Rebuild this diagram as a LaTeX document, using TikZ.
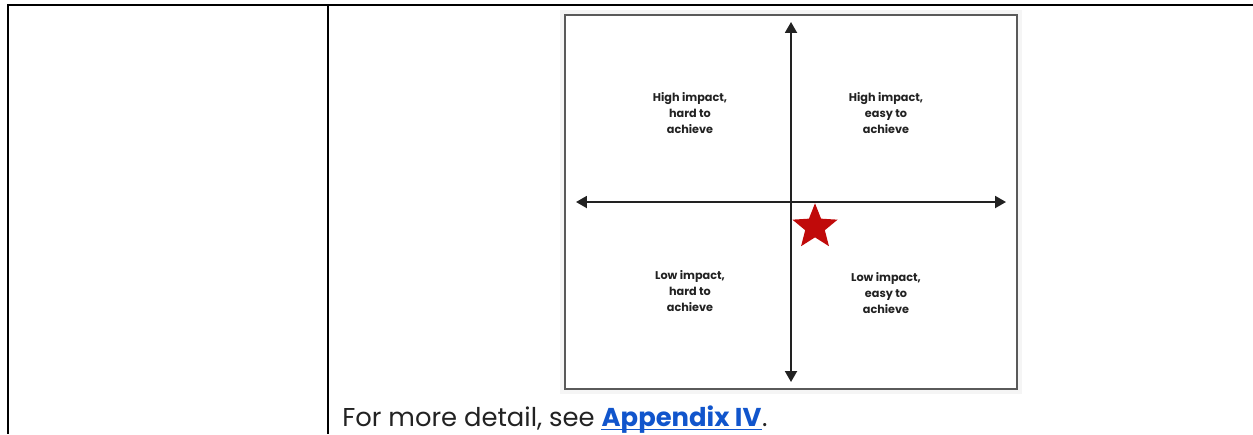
\documentclass[tikz,border=0pt]{standalone}
\usepackage{fontspec}
\setmainfont{Poppins}
\usetikzlibrary{arrows.meta,shapes.geometric,positioning}
\definecolor{axisgray}{HTML}{222222}
\definecolor{framegray}{HTML}{5A5A5A}
\definecolor{starred}{HTML}{C00A0A}
\definecolor{linkblue}{HTML}{1155CC}

\begin{document}
\begin{tikzpicture}[x=0.02cm,y=-0.02cm,
  quad/.style={font=\fontsize{6.4}{9.1}\selectfont\bfseries, align=center, inner sep=0pt, text=axisgray},
  axis/.style={draw=axisgray, line width=1.1pt, {Triangle[length=6.2pt,width=6.8pt]}-{Triangle[length=6.2pt,width=6.8pt]}},
  body/.style={inner sep=0pt, font=\fontsize{14.7}{18}\selectfont}]
\useasboundingbox (0,0) rectangle (1253,434);
% table rules
\draw [black, line width=1.2pt] (7,5) -- (1253,5);
\draw [black, line width=1.2pt] (8,5) -- (8,434);
\draw [black, line width=1.1pt] (328,5) -- (328,434);
% chart frame
\draw [black!4, line width=3pt] (563,13) rectangle (1019,391);
\draw [framegray, line width=0.8pt] (565,15) rectangle (1017,389);
% axes
\coordinate (top) at (791,22);
\coordinate (bot) at (791,382);
\coordinate (left) at (576,202);
\coordinate (right) at (1006,202);
\draw [axis] (top) -- (bot);
\draw [axis] (left) -- (right);
% quadrants
\node [quad] (hardhigh) at (690,113) {High impact,\\hard to\\achieve};
\node [quad] (easyhigh) at (886,113) {High impact,\\easy to\\achieve};
\node [quad] (hardlow) at (690,291) {Low impact,\\hard to\\achieve};
\node [quad] (easylow) at (886,293) {Low impact,\\easy to\\achieve};
\node [star, star points=5, star point ratio=2.3, fill=starred, inner sep=0pt, minimum size=0.95cm] (mark) at (815,227) {};
% caption
\node [body, anchor=base west, text=axisgray] (caption) at (342,426) {For more detail, see};
\node [body, anchor=base west, text=linkblue, font=\fontsize{14.7}{18}\selectfont\bfseries, xshift=3.6pt] (link) at (caption.base east) {Appendix IV};
\node [body, anchor=base west, text=axisgray] (stop) at (link.base east) {.};
\draw [linkblue, line width=0.8pt] ([yshift=-2pt]link.base west) -- ([yshift=-2pt]link.base east);
\end{tikzpicture}
\end{document}
